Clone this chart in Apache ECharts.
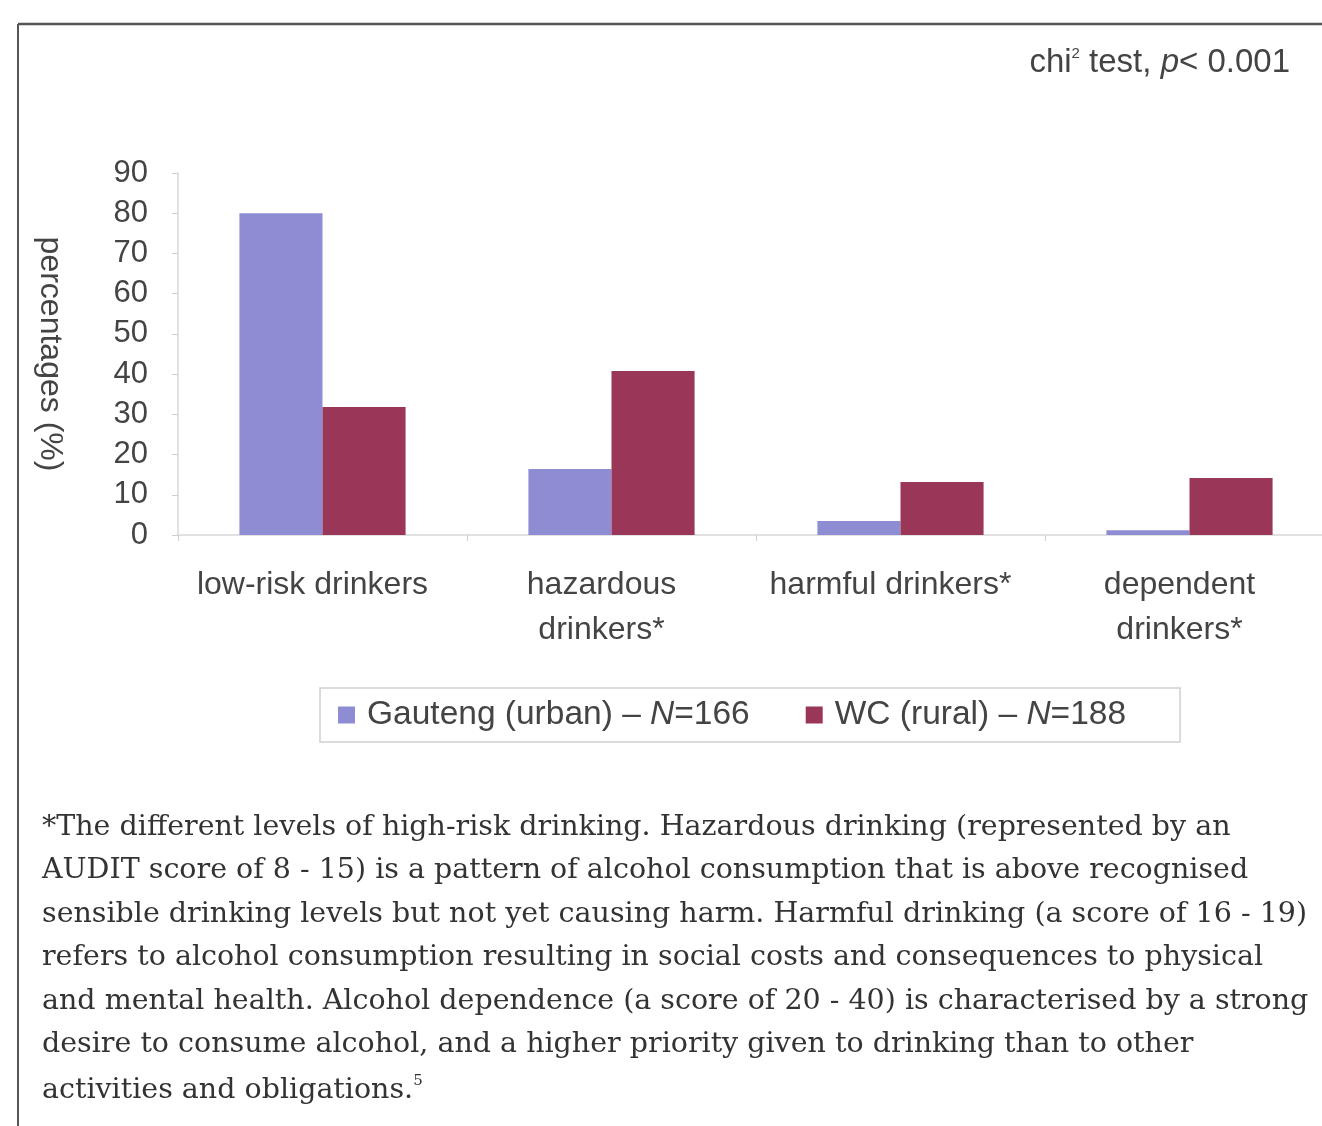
<!DOCTYPE html>
<html><head><meta charset="utf-8">
<script src="https://cdn.jsdelivr.net/npm/echarts@6/dist/echarts.min.js"></script>
<style>html,body{margin:0;padding:0;background:#fff}#c{width:1322px;height:1126px}</style>
</head><body><div id="c"></div>
<script>
const categories = ['low-risk drinkers', 'hazardous\ndrinkers*', 'harmful drinkers*', 'dependent\ndrinkers*'];
const gauteng = [80, 16.4, 3.5, 1.2];
const wc = [31.8, 40.8, 13.2, 14.2];
const seriesNames = ['Gauteng (urban) – N=166', 'WC (rural) – N=188'];
const yTicks = { min: 0, max: 90, interval: 10 };
const footLines = [
  '*The different levels of high-risk drinking. Hazardous drinking (represented by an',
  'AUDIT score of 8 - 15) is a pattern of alcohol consumption that is above recognised',
  'sensible drinking levels but not yet causing harm. Harmful drinking (a score of 16 - 19)',
  'refers to alcohol consumption resulting in social costs and consequences to physical',
  'and mental health. Alcohol dependence (a score of 20 - 40) is characterised by a strong',
  'desire to consume alcohol, and a higher priority given to drinking than to other',
  'activities and obligations.'
];

const SANS = '"Liberation Sans", Arial, sans-serif';
const SERIF = '"DejaVu Serif", serif';
const chart = echarts.init(document.getElementById('c'));

const footGraphics = footLines.map((t, i) => ({
  type: 'text', left: 42, top: 813 + i * 43.5,
  style: {
    text: i === footLines.length - 1 ? '{a|' + t + '}{s|5}' : '{a|' + t + '}',
    rich: {
      a: { fontFamily: SERIF, fontSize: 28.5, fill: '#333' },
      s: { fontFamily: SERIF, fontSize: 15, fill: '#333', verticalAlign: 'top', padding: [0,0,18,0] }
    }
  }
}));

chart.setOption({
  animation: false,
  backgroundColor: '#fff',
  grid: { left: 178, top: 173, height: 362, width: 1156, outerBoundsMode: 'none', containLabel: false },
  legend: {
    left: 320, top: 688,
    data: seriesNames,
    borderColor: '#d0d0d0', borderWidth: 1.5,
    padding: [10, 54, 10, 18],
    itemWidth: 17, itemHeight: 17, itemGap: 56,
    icon: 'rect',
    formatter: function (name) {
      const parts = name.split('N=');
      return '{a|' + parts[0] + '}{i|N}{b|=' + parts[1] + '}';
    },
    textStyle: {
      rich: {
        a: { fontFamily: SANS, fontSize: 33.5, color: '#444', padding: [0, 0, 0, 7] },
        b: { fontFamily: SANS, fontSize: 33.5, color: '#444' },
        i: { fontFamily: SANS, fontSize: 33.5, color: '#444', fontStyle: 'italic' }
      }
    }
  },
  xAxis: {
    type: 'category', data: categories,
    axisLine: { lineStyle: { color: '#d8d8d8', width: 1.5 } },
    axisTick: { show: true, length: 6, lineStyle: { color: '#d0d0d0' } },
    axisLabel: { color: '#444', fontFamily: SANS, fontSize: 32, margin: 28, lineHeight: 45, interval: 0,
      padding: [0, 20, 0, 0] }
  },
  yAxis: {
    type: 'value', min: yTicks.min, max: yTicks.max, interval: yTicks.interval,
    name: 'percentages (%)', nameLocation: 'middle', nameRotate: -90, nameGap: 112,
    nameTextStyle: { color: '#444', fontFamily: SANS, fontSize: 32 },
    axisLine: { show: true, lineStyle: { color: '#d8d8d8', width: 1.5 } },
    axisTick: { show: true, length: 6, lineStyle: { color: '#d0d0d0' } },
    splitLine: { show: false },
    axisLabel: { color: '#444', fontFamily: SANS, fontSize: 31, margin: 30 }
  },
  series: [
    { name: seriesNames[0], type: 'bar', data: gauteng, barGap: '0%', barCategoryGap: '42.5%',
      itemStyle: { color: '#8e8cd2' } },
    { name: seriesNames[1], type: 'bar', data: wc,
      itemStyle: { color: '#9a3758' } }
  ],
  graphic: [
    { type: 'line', shape: { x1: 18, y1: 24, x2: 1322, y2: 24 }, style: { stroke: '#555', lineWidth: 2.5 } },
    { type: 'line', shape: { x1: 18, y1: 24, x2: 18, y2: 1126 }, style: { stroke: '#555', lineWidth: 2 } },
    { type: 'text', right: 32, top: 46,
      style: {
        text: '{a|chi}{s|2}{a| test, }{i|p}{a|< 0.001}',
        rich: {
          a: { fontFamily: SANS, fontSize: 33, fill: '#444' },
          i: { fontFamily: SANS, fontSize: 33, fill: '#444', fontStyle: 'italic' },
          s: { fontFamily: SANS, fontSize: 15, fill: '#444', verticalAlign: 'top', padding: [0,0,16,0] }
        }
      }
    }
  ].concat(footGraphics)
});
</script></body></html>
